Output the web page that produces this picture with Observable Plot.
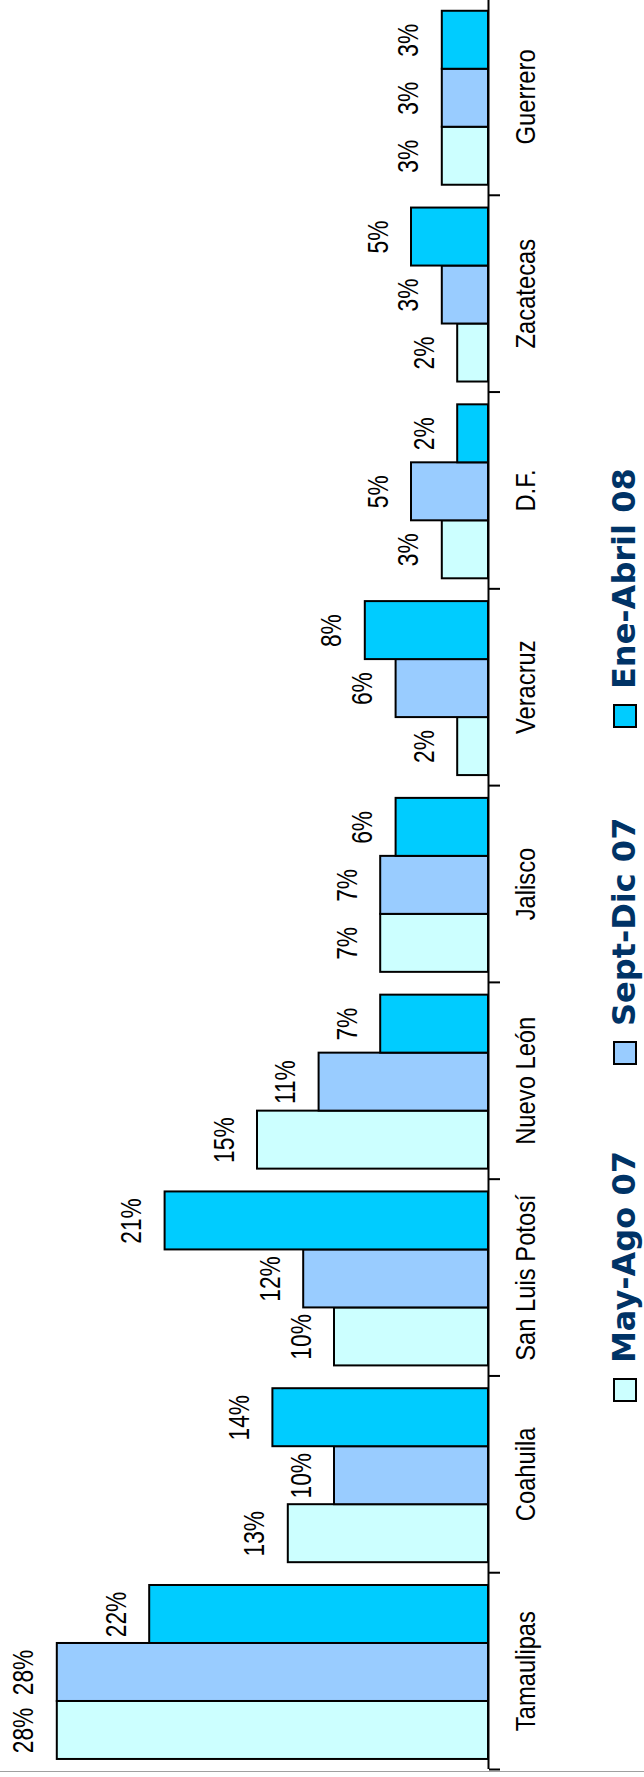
<!DOCTYPE html>
<html>
<head>
<meta charset="utf-8">
<script src="https://cdn.jsdelivr.net/npm/d3@7"></script>
<script src="https://cdn.jsdelivr.net/npm/@observablehq/plot@0.6"></script>
<style>
  html, body { margin: 0; padding: 0; background: #fff; overflow: hidden; }
  #wrap { position: relative; width: 644px; height: 1777px; }
  #legend { position: absolute; left: 605px; top: 1402px; height: 40px; transform-origin: 0 0; transform: rotate(-90deg);
            display: flex; align-items: center; white-space: nowrap; }
  .item { display: flex; align-items: center; }
  .swatch { width: 20px; height: 20px; border: 2px solid #000; flex: none; }
  .lab { margin-left: 15px; font: bold 32px "DejaVu Sans", Verdana, sans-serif; color: #003366; line-height: 1.1; }
  #frameLine { position: absolute; left: 0; top: 1771px; width: 644px; height: 1px; background: #a0a0a0; }
</style>
</head>
<body>
<div id="wrap">
  <div id="chart"></div>
  <div id="legend"></div>
  <div id="frameLine"></div>
</div>
<script>
// ---- data ----
const categories = ["Tamaulipas", "Coahuila", "San Luis Potosí", "Nuevo León", "Jalisco", "Veracruz", "D.F.", "Zacatecas", "Guerrero"];
const seriesNames = ["May-Ago 07", "Sept-Dic 07", "Ene-Abril 08"];
const seriesColors = ["#CCFFFF", "#99CCFF", "#00CCFF"];
const mayAgo07   = [28, 13, 10, 15, 7, 2, 3, 2, 3];
const septDic07  = [28, 10, 12, 11, 7, 6, 5, 3, 3];
const eneAbril08 = [22, 14, 21, 7, 6, 8, 2, 5, 3];

const seriesValues = [mayAgo07, septDic07, eneAbril08];
const rows = categories.flatMap((c, i) =>
  seriesValues.map((vals, s) => ({category: c, index: i, s, series: seriesNames[s], value: vals[i]}))
);

// band layout (fractions of one category band)
const padBottom = 0.051;
const barWidth = 0.2947;
const y1 = d => d.index + padBottom + d.s * barWidth;
const y2 = d => y1(d) + barWidth;

const chart = Plot.plot({
  width: 644,
  height: 1777,
  marginLeft: 26,
  marginRight: 156,
  marginTop: -2,
  marginBottom: 8,
  style: {background: "white", fontFamily: "'Liberation Sans', Arial, sans-serif", color: "black"},
  x: {domain: [0, 30], reverse: true, axis: null},
  y: {domain: [0, categories.length], axis: null},
  color: {domain: seriesNames, range: seriesColors},
  marks: [
    Plot.rectX(rows, {x1: 0, x2: "value", y1, y2, fill: "series", stroke: "black", strokeWidth: 2}),
    Plot.ruleX([0], {stroke: "black", strokeWidth: 2}),
    Plot.axisY({anchor: "right", ticks: d3.range(0, categories.length + 1), tickSize: 11, fill: "none", stroke: "black", strokeWidth: 2, label: null}),
    Plot.text(rows, {x: "value", y: d => (y1(d) + y2(d)) / 2, text: d => `${d.value}%`, rotate: -90, lineAnchor: "bottom", textAnchor: "middle", dx: -24, fontSize: 30, fill: "black"}),
    Plot.text(categories, {x: 0, y: (d, i) => i + 0.5, text: d => d, rotate: -90, textAnchor: "middle", lineAnchor: "middle", dx: 38, fontSize: 27, fill: "black"})
  ]
});
document.getElementById("chart").appendChild(chart);

// narrow the glyphs along the reading direction, like the reference
chart.querySelectorAll('g[aria-label="text"]').forEach(g => {
  const fs = g.getAttribute("font-size");
  const sx = fs === "30" ? 0.76 : 0.88;
  g.querySelectorAll("text").forEach(t => {
    const tr = t.getAttribute("transform") || "";
    t.setAttribute("transform", tr + ` scale(${sx},1)`);
  });
});

// legend
const legend = document.getElementById("legend");
seriesNames.forEach((name, i) => {
  const item = document.createElement("div");
  item.className = "item";
  if (i < seriesNames.length - 1) item.style.width = "337px";
  const sw = document.createElement("span");
  sw.className = "swatch";
  sw.style.background = seriesColors[i];
  const lab = document.createElement("span");
  lab.className = "lab";
  lab.textContent = name;
  item.appendChild(sw);
  item.appendChild(lab);
  legend.appendChild(item);
});
</script>
</body>
</html>
